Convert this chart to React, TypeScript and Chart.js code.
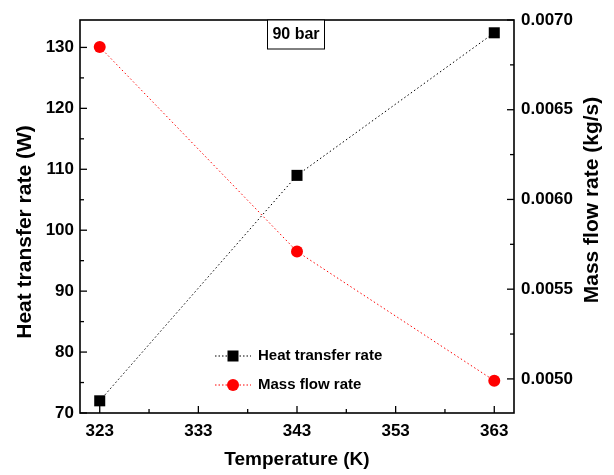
import React, { useEffect, useRef } from "react";
import { Chart, registerables } from "chart.js";

Chart.register(...registerables);

// Measured points (temperature in K)
const temperatures = [323, 343, 363];
const heatTransferRate = [72, 109, 132.4];
const massFlowRate = [0.00685, 0.00571, 0.00499];

// Axis ticks
const xTicks = [323, 333, 343, 353, 363];
const xMinorTicks = [328, 338, 348, 358];
const leftTicks = [70, 80, 90, 100, 110, 120, 130];
const leftMinorTicks = [75, 85, 95, 105, 115, 125];
const rightTicks = [0.005, 0.0055, 0.006, 0.0065, 0.007];
const rightMinorTicks = [0.00475, 0.00525, 0.00575, 0.00625, 0.00675];

const xTitle = "Temperature (K)";
const leftTitle = "Heat transfer rate (W)";
const rightTitle = "Mass flow rate (kg/s)";
const pressureLabel = "90 bar";

const FONT = "'Liberation Sans', Arial, Helvetica, sans-serif";

const decorPlugin = {
  id: "decor",
  beforeDatasetsDraw(chart: any) {
    const { ctx, chartArea } = chart;
    const { left, right, top, bottom } = chartArea;
    ctx.save();
    ctx.strokeStyle = "#000";
    ctx.lineWidth = 1.6;
    ctx.strokeRect(left, top, right - left, bottom - top);

    ctx.lineWidth = 1.3;
    const x = chart.scales.x;
    const yl = chart.scales.y;
    const yr = chart.scales.y1;
    const tick = (x1: number, y1: number, x2: number, y2: number) => {
      ctx.beginPath();
      ctx.moveTo(x1, y1);
      ctx.lineTo(x2, y2);
      ctx.stroke();
    };
    xTicks.forEach((v) => { const p = x.getPixelForValue(v); tick(p, bottom, p, bottom - 7); });
    xMinorTicks.forEach((v) => { const p = x.getPixelForValue(v); tick(p, bottom, p, bottom - 4); });
    leftTicks.forEach((v) => { const p = yl.getPixelForValue(v); tick(left, p, left + 7, p); });
    leftMinorTicks.forEach((v) => { const p = yl.getPixelForValue(v); tick(left, p, left + 4, p); });
    rightTicks.forEach((v) => { const p = yr.getPixelForValue(v); tick(right, p, right - 7, p); });
    rightMinorTicks.forEach((v) => {
      const p = yr.getPixelForValue(v);
      if (p > top && p < bottom) tick(right, p, right - 4, p);
    });
    ctx.restore();
  },
  afterDraw(chart: any) {
    const { ctx, chartArea } = chart;
    ctx.save();
    ctx.fillStyle = "#000";

    // axis titles
    ctx.font = `bold 19px ${FONT}`;
    ctx.textAlign = "center";
    ctx.textBaseline = "middle";
    ctx.fillText(xTitle, (chartArea.left + chartArea.right) / 2, 460);

    ctx.font = `bold 21px ${FONT}`;
    ctx.save();
    ctx.translate(25, 232);
    ctx.rotate(-Math.PI / 2);
    ctx.fillText(leftTitle, 0, 0);
    ctx.restore();
    ctx.save();
    ctx.translate(592, 200);
    ctx.rotate(-Math.PI / 2);
    ctx.fillText(rightTitle, 0, 0);
    ctx.restore();

    // pressure box
    ctx.fillStyle = "#fff";
    ctx.fillRect(267, chartArea.top, 57, 29);
    ctx.strokeStyle = "#000";
    ctx.lineWidth = 1;
    ctx.strokeRect(267.5, chartArea.top, 57, 29);
    ctx.fillStyle = "#000";
    ctx.font = `bold 16px ${FONT}`;
    ctx.fillText(pressureLabel, 296, chartArea.top + 15);

    // legend
    chart.data.datasets.forEach((ds: any, i: number) => {
      const y = 356 + i * 29;
      ctx.strokeStyle = ds.borderColor;
      ctx.lineWidth = 1;
      ctx.setLineDash([1.5, 2]);
      ctx.beginPath();
      ctx.moveTo(215, y);
      ctx.lineTo(251, y);
      ctx.stroke();
      ctx.setLineDash([]);
      ctx.fillStyle = ds.pointBackgroundColor;
      if (ds.pointStyle === "rect") {
        ctx.fillRect(233 - 5.5, y - 5.5, 11, 11);
      } else {
        ctx.beginPath();
        ctx.arc(233, y, 6, 0, Math.PI * 2);
        ctx.fill();
      }
      ctx.fillStyle = "#000";
      ctx.font = `bold 15px ${FONT}`;
      ctx.textAlign = "left";
      ctx.fillText(ds.label, 258, y);
    });
    ctx.restore();
  },
};

export default function App() {
  const canvasRef = useRef<HTMLCanvasElement | null>(null);

  useEffect(() => {
    const canvas = canvasRef.current;
    if (!canvas) return;
    const tickFont = { family: FONT, size: 17, weight: "bold" as const };
    const chart = new Chart(canvas, {
      type: "line",
      data: {
        datasets: [
          {
            label: "Heat transfer rate",
            data: temperatures.map((t, i) => ({ x: t, y: heatTransferRate[i] })),
            yAxisID: "y",
            borderColor: "#000",
            borderWidth: 1,
            borderDash: [1.5, 2.5],
            pointStyle: "rect",
            pointRadius: 7.8,
            pointBorderWidth: 0,
            pointBackgroundColor: "#000",
            pointBorderColor: "#000",
            fill: false,
          },
          {
            label: "Mass flow rate",
            data: temperatures.map((t, i) => ({ x: t, y: massFlowRate[i] })),
            yAxisID: "y1",
            borderColor: "#ff0000",
            borderWidth: 1,
            borderDash: [1.5, 2.5],
            pointStyle: "circle",
            pointRadius: 6,
            pointBorderWidth: 0,
            pointBackgroundColor: "#ff0000",
            pointBorderColor: "#ff0000",
            fill: false,
          },
        ],
      },
      options: {
        responsive: false,
        animation: false,
        layout: { padding: { top: 20, left: 0, right: 0, bottom: 0 } },
        plugins: { legend: { display: false }, tooltip: { enabled: false } },
        scales: {
          x: {
            type: "linear",
            min: 321,
            max: 365,
            grid: { display: false, drawTicks: false },
            border: { display: false },
            afterBuildTicks: (s: any) => { s.ticks = xTicks.map((v) => ({ value: v })); },
            afterFit: (s: any) => { s.height = 62; },
            ticks: { color: "#000", font: tickFont, padding: 8, maxRotation: 0, callback: (v: any) => String(v) },
          },
          y: {
            type: "linear",
            position: "left",
            min: 70,
            max: 134.5,
            grid: { display: false, drawTicks: false },
            border: { display: false },
            afterBuildTicks: (s: any) => { s.ticks = leftTicks.map((v) => ({ value: v })); },
            afterFit: (s: any) => { s.width = 80; },
            ticks: { color: "#000", font: tickFont, padding: 6, callback: (v: any) => String(v) },
          },
          y1: {
            type: "linear",
            position: "right",
            min: 0.00481,
            max: 0.007,
            grid: { display: false, drawTicks: false },
            border: { display: false },
            afterBuildTicks: (s: any) => { s.ticks = rightTicks.map((v) => ({ value: v })); },
            afterFit: (s: any) => { s.width = 100; },
            ticks: { color: "#000", font: tickFont, padding: 7, callback: (v: any) => Number(v).toFixed(4) },
          },
        },
      },
      plugins: [decorPlugin],
    });
    return () => chart.destroy();
  }, []);

  return (
    <div style={{ position: "fixed", left: 0, top: 0, width: 614, height: 475, background: "#fff" }}>
      <canvas ref={canvasRef} width={614} height={475} />
    </div>
  );
}
